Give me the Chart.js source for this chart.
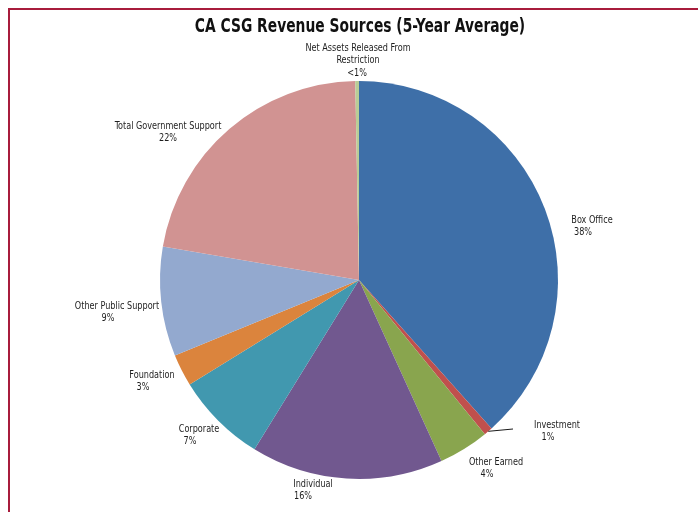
<!DOCTYPE html>
<html>
<head>
<meta charset="utf-8">
<title>CA CSG Revenue Sources</title>
<script src="https://cdn.jsdelivr.net/npm/chart.js@4"></script>
<style>
  html, body { margin: 0; padding: 0; background: #fff; overflow: hidden; }
  #wrap { position: relative; width: 698px; height: 512px; }
  #frame {
    position: absolute; left: 8px; top: 8px; width: 900px; height: 700px;
    border-left: 2.5px solid #a81c3c; border-top: 2.5px solid #a81c3c;
    pointer-events: none;
  }
  canvas { position: absolute; left: 0; top: 0; }
</style>
</head>
<body>
<div id="wrap">
  <canvas id="myChart" width="698" height="512"></canvas>
  <div id="frame"></div>
</div>
<script>
'use strict';

// ====================== DATA ======================//
let sourceNames = [
  'Box Office',
  'Investment',
  'Other Earned',
  'Individual',
  'Corporate',
  'Foundation',
  'Other Public Support',
  'Total Government Support',
  'Net Assets Released From Restriction'
];
// share of revenue, percent
let sourceShares = [38.4, 0.7, 4.1, 15.6, 7.4, 2.6, 8.9, 22.0, 0.3];
let sliceColors = ['#3e6fa8', '#c0504d', '#89a54e', '#71588f', '#4198af', '#db843d', '#93a9cf', '#d19392', '#b9cd96'];

// label lines (name can wrap)
let labelLines = [
  ['Box Office'],
  ['Investment'],
  ['Other Earned'],
  ['Individual'],
  ['Corporate'],
  ['Foundation'],
  ['Other Public Support'],
  ['Total Government Support'],
  ['Net Assets Released From', 'Restriction']
];
let chartTitle = 'CA CSG Revenue Sources (5-Year Average)';

// ====================== LABEL LAYOUT ======================//
// offset of the first text line from the pie centre, plus a nudge for the % line
let labelSpots = [
  [233, -60, -9],
  [198, 145, -9],
  [137, 182, -9],
  [-46, 204, -10],
  [-160, 149, -9],
  [-207, 95, -9],
  [-242, 26, -9],
  [-191, -154, 0],
  [-1, -232, -1]
];

function percentText(v) {
  if (v < 0.5) {
    return '<1%';
  }
  return Math.round(v) + '%';
}

// condensed text: squeeze DejaVu horizontally so it runs as narrow as the print face
function narrowText(ctx, text, x, y, squeeze) {
  ctx.save();
  ctx.translate(x, y);
  ctx.scale(squeeze, 1);
  ctx.fillText(text, 0, 0);
  ctx.restore();
}

// draws the title, the outside labels and the leader for the thin Investment slice
let sliceLabels = {
  id: 'sliceLabels',
  afterDatasetsDraw(chart) {
    let ctx = chart.ctx;
    let arcs = chart.getDatasetMeta(0).data;
    let cx = arcs[0].x;
    let cy = arcs[0].y;
    let lineGap = 12.5;
    ctx.save();
    ctx.textAlign = 'center';
    ctx.textBaseline = 'middle';

    ctx.font = 'bold 19px "DejaVu Sans Condensed", "DejaVu Sans", sans-serif';
    ctx.fillStyle = '#111';
    narrowText(ctx, chartTitle, cx + 1, 27, 0.81);

    ctx.font = '11px "DejaVu Sans Condensed", "DejaVu Sans", sans-serif';
    ctx.fillStyle = '#1e1e1e';
    for (let i = 0; i < arcs.length; i++) {
      let spot = labelSpots[i];
      let x = cx + spot[0];
      let y = cy + spot[1];
      let lines = labelLines[i];
      for (let j = 0; j < lines.length; j++) {
        narrowText(ctx, lines[j], x, y + j * lineGap, 0.82);
      }
      narrowText(ctx, percentText(sourceShares[i]), x + spot[2], y + lines.length * lineGap, 0.82);
    }

    // leader line: Investment slice edge -> label
    let inv = arcs[1];
    let mid = (inv.startAngle + inv.endAngle) / 2;
    ctx.strokeStyle = '#1a1a1a';
    ctx.lineWidth = 1;
    ctx.beginPath();
    ctx.moveTo(cx + Math.cos(mid) * inv.outerRadius, cy + Math.sin(mid) * inv.outerRadius);
    ctx.lineTo(cx + 154, cy + 149);
    ctx.stroke();
    ctx.restore();
  }
};

// ====================== CHART ======================//
let chartObject = {
  type: 'pie',
  data: {
    labels: sourceNames,
    datasets: [{
      data: sourceShares,
      backgroundColor: sliceColors,
      borderWidth: 0
    }]
  },
  options: {
    responsive: false,
    animation: false,
    layout: {
      padding: { left: 150, right: 130, top: 81, bottom: 33 }
    },
    plugins: {
      legend: { display: false },
      tooltip: { enabled: false },
      title: { display: false }
    }
  },
  plugins: [sliceLabels]
};

let ctx = document.getElementById('myChart').getContext('2d');
let myChart = new Chart(ctx, chartObject);
</script>
</body>
</html>
